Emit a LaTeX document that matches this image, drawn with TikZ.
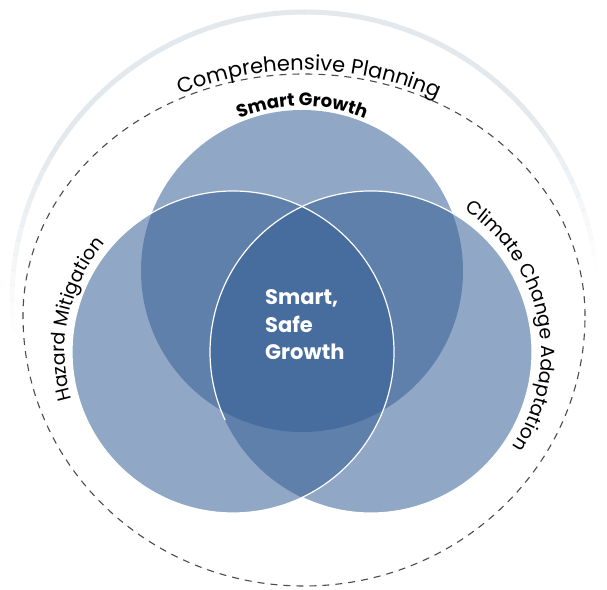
\documentclass[tikz,border=0pt]{standalone}
\usepackage{fontspec}
\setmainfont{Poppins}
\usetikzlibrary{decorations.text}
\definecolor{venn}{RGB}{53,95,150}
\definecolor{ringgray}{RGB}{227,232,236}
\definecolor{dashgray}{RGB}{75,75,75}
\tikzset{
  vennfill/.style={fill=venn, fill opacity=0.55},
  vennedge/.style={draw=white, line width=1.2pt},
  corelabel/.style={anchor=base west, text=white, inner sep=0pt, font=\bfseries\fontsize{21}{21}\selectfont},
  dashring/.style={draw=dashgray, line width=1.1pt, dash pattern=on 7pt off 6pt}
}
\begin{document}
\begin{tikzpicture}[x=1pt,y=1pt]
\useasboundingbox (0,0) rectangle (607,589);
\coordinate (E) at (304,273);
\coordinate (G) at (305,289);
\coordinate (T) at (302,318);
\coordinate (L) at (233,237);
\coordinate (R) at (371,237);

% faint outer ring, fading at its ends
\foreach \a in {3,6,...,186} {
  \pgfmathsetmacro\op{max(0,min(1,(\a-4)/35,(186-\a)/40))}
  \draw[ringgray, line width=5pt, opacity=\op] (G) ++(\a:293 and 288) arc[start angle=\a, end angle=\a+3.2, x radius=293, y radius=288];
}

% dashed boundary
\draw[dashring] (E) ++(0:281 and 242) arc[start angle=0, end angle=180, x radius=281, y radius=242]
  arc[start angle=180, end angle=360, x radius=281, y radius=270];

% Venn circles
\fill[vennfill] (T) circle[radius=161];
\fill[vennfill] (L) circle[radius=161];
\fill[vennfill] (R) circle[radius=161];
\draw[vennedge] (L) circle[radius=161];
\draw[vennedge] (R) ++(245:161) arc[start angle=245, end angle=565, radius=161];

% centre text
\node[corelabel] (core1) at (265,284) {Smart,};
\node[corelabel] (core2) at (265,256) {Safe};
\node[corelabel] (core3) at (265,229) {Growth};

% curved labels
\path[decorate, decoration={text along path, text align=center,
  text={|\bfseries\fontsize{18}{18}\selectfont|Smart Growth}}]
  (T) ++(130:165) arc[start angle=130, end angle=50, radius=165];
\path[decorate, decoration={text along path, text align=center,
  text={|\fontsize{21}{21}\selectfont|Comprehensive Planning}}]
  (E) ++(140:285 and 246) arc[start angle=140, end angle=37.6, x radius=285, y radius=246];
\path[decorate, decoration={text along path, text align=center,
  text={|\fontsize{19}{19}\selectfont|Hazard Mitigation}}]
  (L) ++(228:168) arc[start angle=228, end angle=108, radius=168];
\path[decorate, decoration={text along path, text align=center,
  text={|\fontsize{19}{19}\selectfont|Climate Change Adaptation}}]
  (R) ++(81.5:170) arc[start angle=81.5, end angle=-58.5, radius=170];
\end{tikzpicture}
\end{document}
